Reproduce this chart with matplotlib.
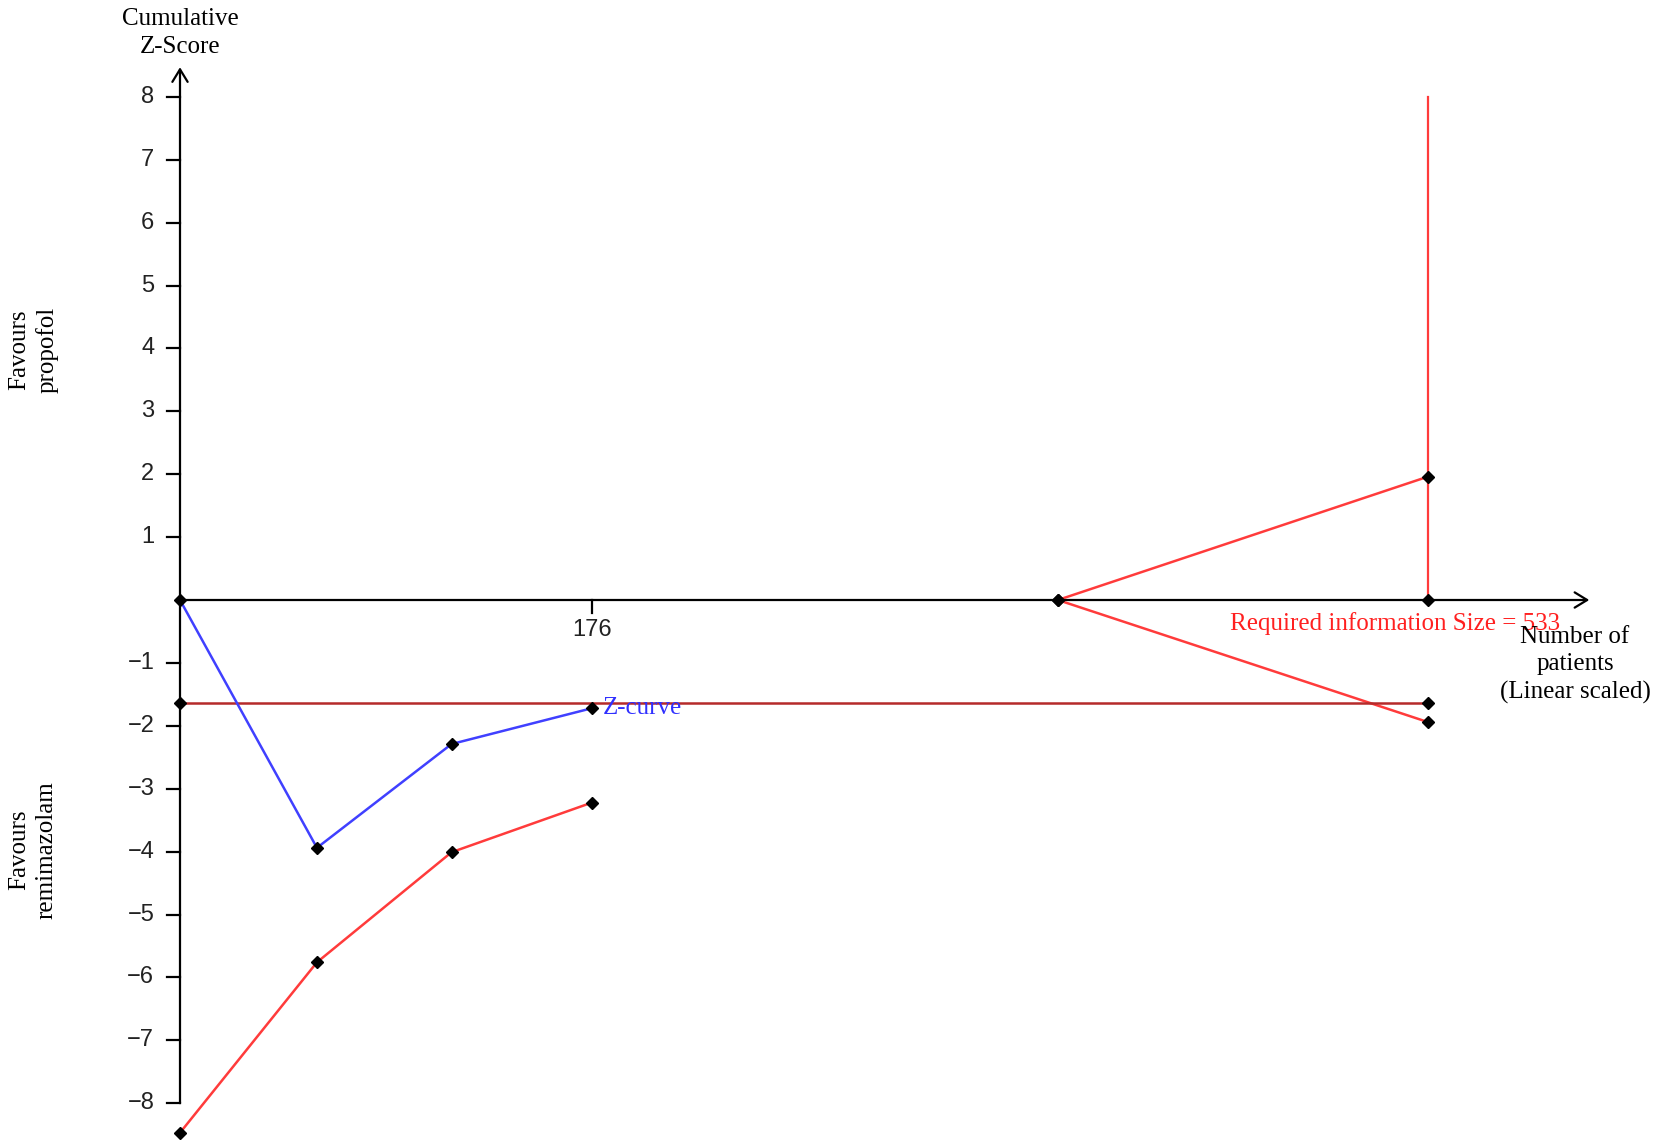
import matplotlib
matplotlib.use("Agg")
import matplotlib.pyplot as plt

# ---- data ----
patients = [0, 58.5, 116, 176]
z_curve = [0, -3.94, -2.29, -1.72]
efficacy_lower = [-8.47, -5.76, -4.01, -3.22]
futility_x = [375, 533]
futility_upper = [0, 1.96]
futility_lower = [0, -1.94]
ris = 533
conventional = -1.63
y_ticks = [-8, -7, -6, -5, -4, -3, -2, -1, 1, 2, 3, 4, 5, 6, 7, 8]
x_ticks = [176]

W, H = 1654, 1147
fig = plt.figure(figsize=(W / 100, H / 100), dpi=100)
# pixel geometry
x0_px, px_per_patient = 180, 2.341
y0_px, px_per_z = 600, 62.9
xlim = (0, 600)
ylim = (-8.6, 9.0)
left = x0_px / W
width = (xlim[1] - xlim[0]) * px_per_patient / W
top_px = y0_px - ylim[1] * px_per_z
bot_px = y0_px - ylim[0] * px_per_z
ax = fig.add_axes([left, 1 - bot_px / H, width, (bot_px - top_px) / H])
ax.set_xlim(*xlim)
ax.set_ylim(*ylim)
ax.axis("off")

serif = ["Liberation Serif", "DejaVu Serif"]
sans = ["Liberation Sans", "DejaVu Sans"]

# axes lines with open arrows
ax.annotate("", xy=(0, 8.47), xytext=(0, -8.0),
            arrowprops=dict(arrowstyle="->,head_length=0.9,head_width=0.55", lw=1.6, color="black",
                            shrinkA=0, shrinkB=0), annotation_clip=False)
ax.annotate("", xy=(602, 0), xytext=(0, 0),
            arrowprops=dict(arrowstyle="->,head_length=0.9,head_width=0.55", lw=1.6, color="black",
                            shrinkA=0, shrinkB=0), annotation_clip=False)

# y ticks
for t in y_ticks:
    ax.plot([-5.5, 0], [t, t], color="black", lw=1.6, clip_on=False)
    lab = ("\u2212" + str(-t)) if t < 0 else str(t)
    ax.text(-11, t, lab, ha="right", va="center", fontsize=17, family=sans, color="#222222")
# x ticks
for t in x_ticks:
    ax.plot([t, t], [0, -0.2], color="black", lw=1.6, clip_on=False)
    ax.text(t, -0.3, str(t), ha="center", va="top", fontsize=17, family=sans, color="#222222")

# boundaries
red = "#ff3b3b"
ax.plot([ris, ris], [0, 8], color=red, lw=1.6, clip_on=False)
ax.plot(patients, efficacy_lower, color=red, lw=1.8, clip_on=False)
ax.plot(futility_x, futility_upper, color=red, lw=1.8, clip_on=False)
ax.plot(futility_x, futility_lower, color=red, lw=1.8, clip_on=False)
ax.plot([0, ris], [conventional, conventional], color="#b52a2a", lw=1.8, clip_on=False)
ax.plot(patients, z_curve, color="#4040ff", lw=1.8, clip_on=False)

# markers
mk = dict(marker="D", color="black", ms=6, ls="none", clip_on=False, zorder=5)
ax.plot(patients, z_curve, **mk)
ax.plot(patients, efficacy_lower, **mk)
ax.plot(futility_x, futility_upper, **mk)
ax.plot(futility_x, futility_lower, **mk)
ax.plot([0, ris], [conventional, conventional], **mk)
ax.plot([ris], [0], **mk)

# texts
ax.text(patients[-1] + 4.5, z_curve[-1], "Z-curve", color="#3030ff", fontsize=18,
        family=serif, ha="left", va="center")
ax.text(519, -0.37, "Required information Size = 533", color="#ff2020", fontsize=18,
        family=serif, ha="center", va="center")
fig.text(180 / W, 1 - 33 / H, "Cumulative\nZ-Score", fontsize=18, family=serif,
         ha="center", va="center", linespacing=1.3)
fig.text(1575 / W, 1 - 665 / H, "Number of\npatients\n(Linear scaled)", fontsize=18,
         family=serif, ha="center", va="center", linespacing=1.3)
fig.text(33 / W, 1 - 350 / H, "Favours\npropofol", fontsize=18, family=serif,
         ha="center", va="center", rotation=90, linespacing=1.3)
fig.text(33 / W, 1 - 850 / H, "Favours\nremimazolam", fontsize=18, family=serif,
         ha="center", va="center", rotation=90, linespacing=1.3)

fig.savefig("out.png", dpi=100, facecolor="white")
